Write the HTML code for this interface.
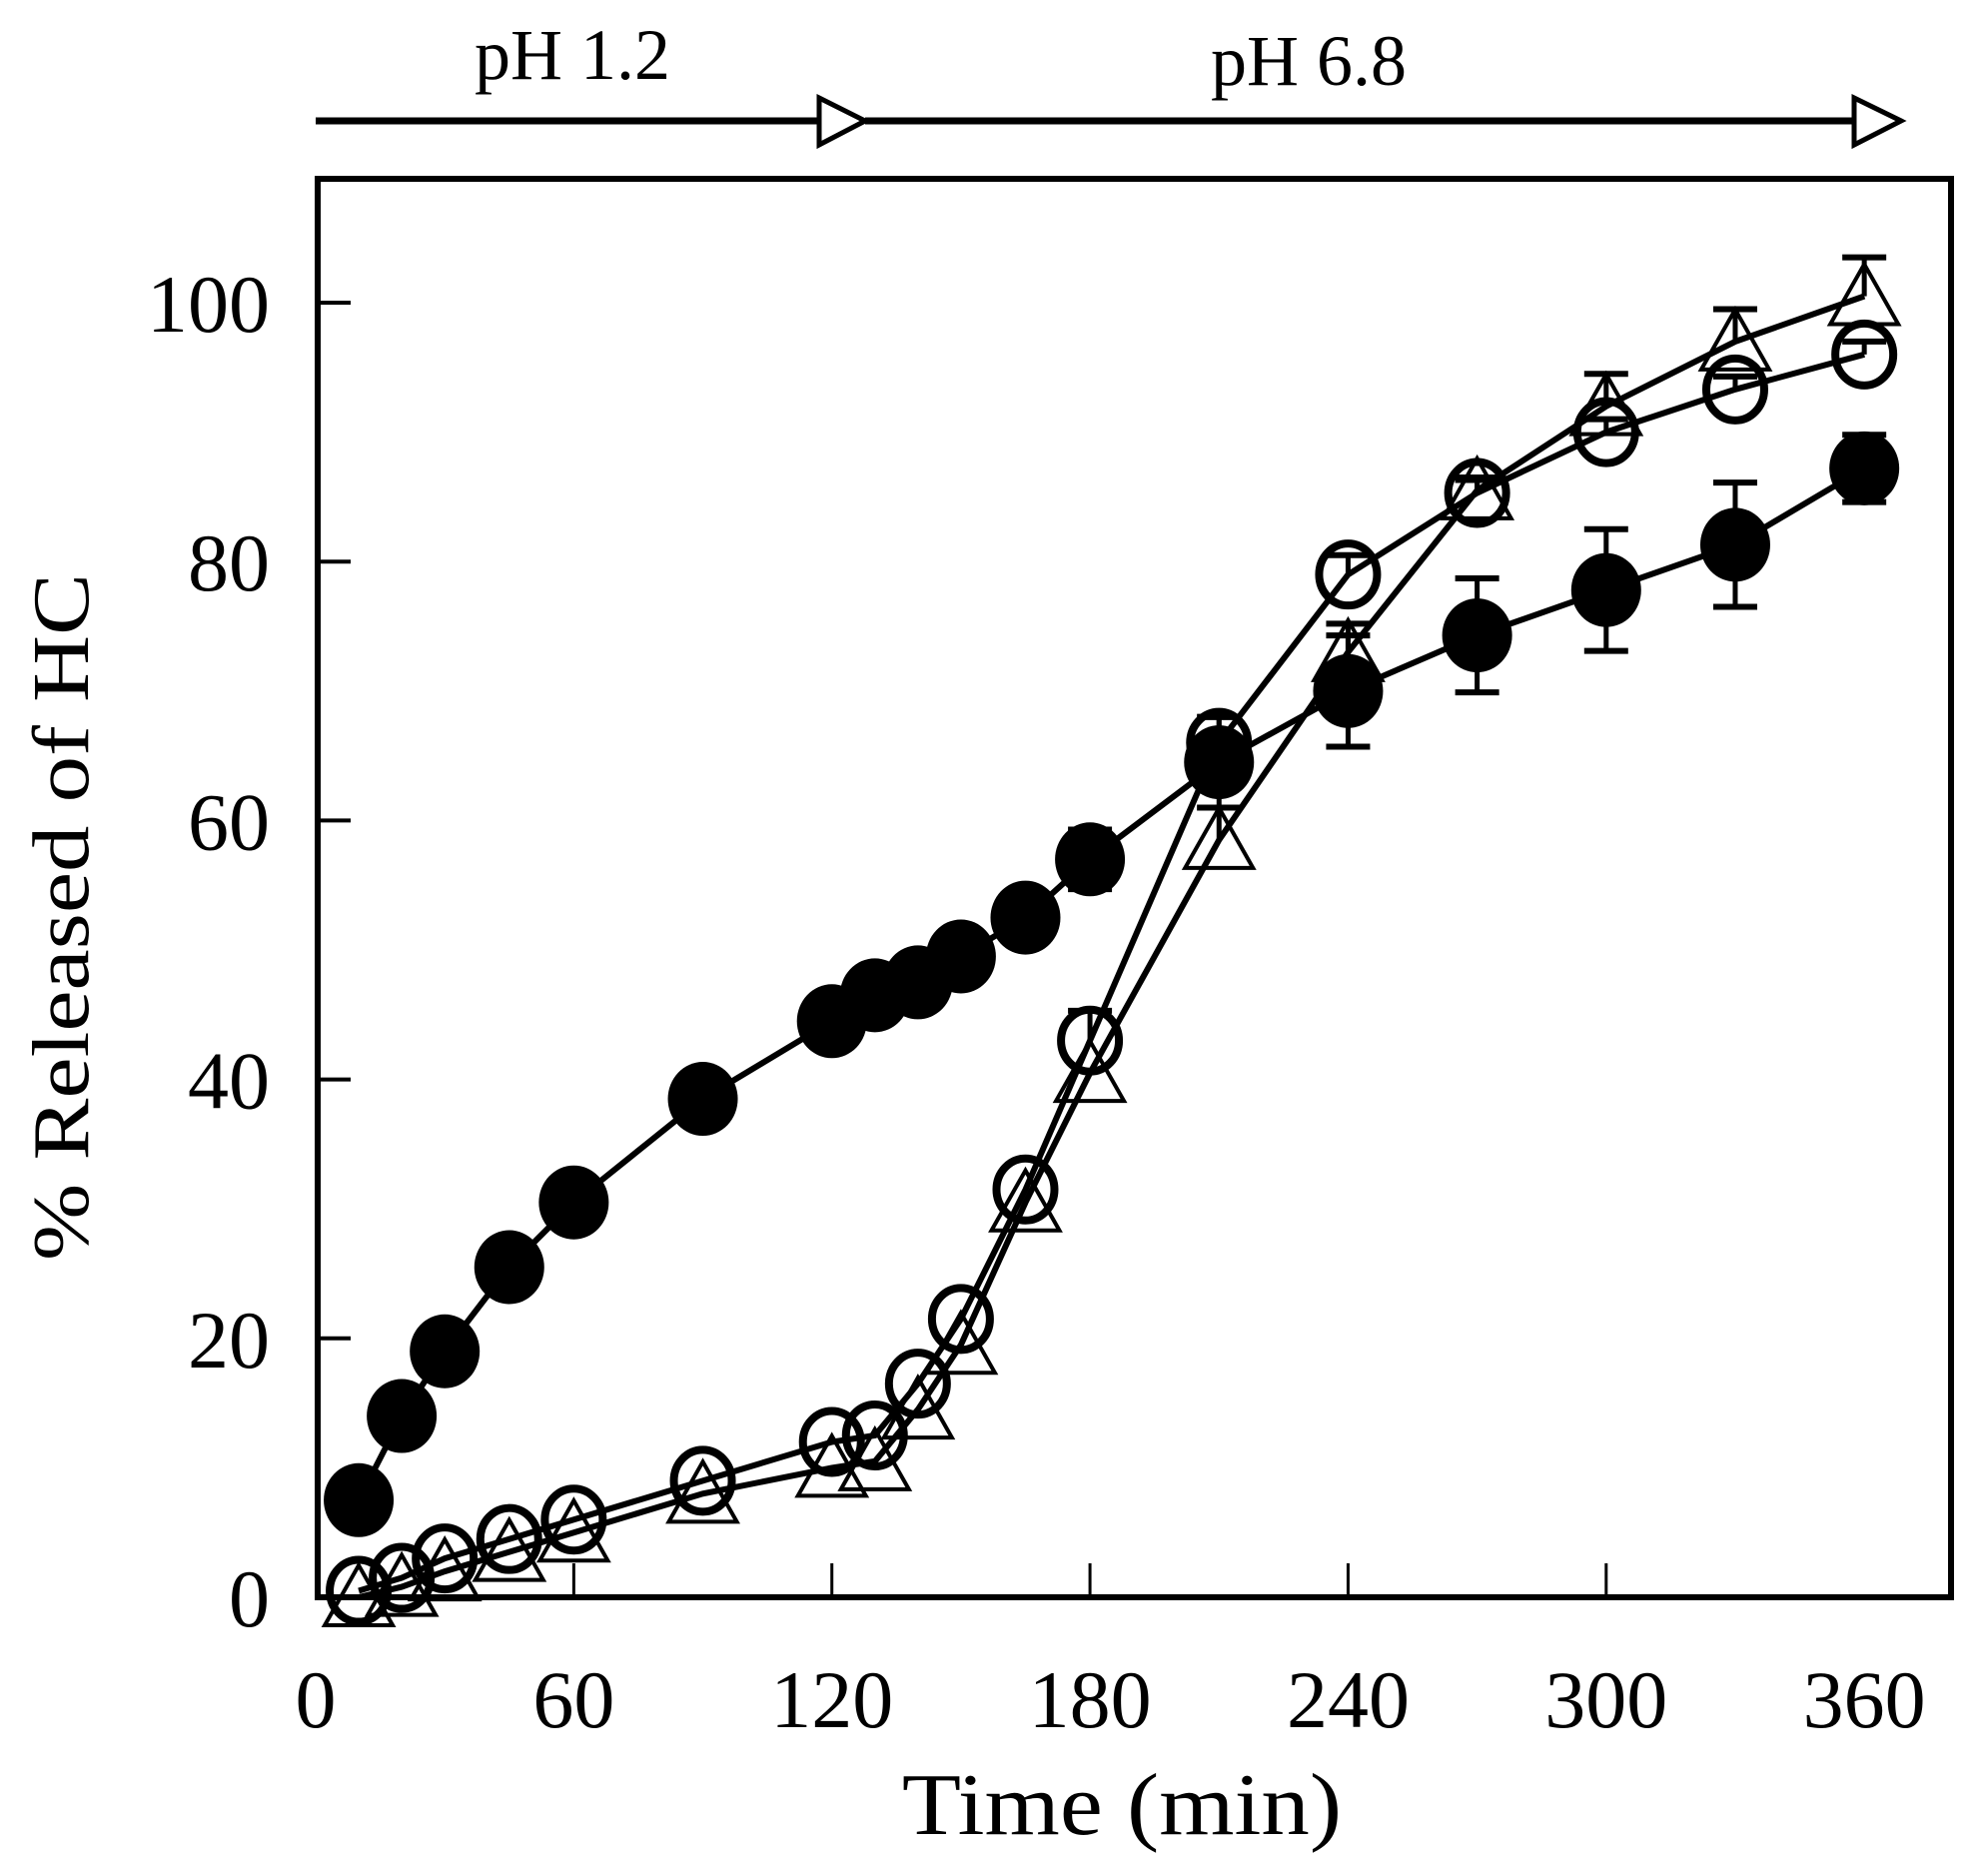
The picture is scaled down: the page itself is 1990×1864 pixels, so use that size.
<!DOCTYPE html>
<html><head><meta charset="utf-8"><style>
html,body{margin:0;padding:0;background:#fff;}
svg{display:block;}
text{font-family:"Liberation Serif",serif;fill:#000;}
</style></head><body>
<svg id="s" width="1990" height="1864" viewBox="0 0 1990 1864" xmlns="http://www.w3.org/2000/svg">
<rect width="1990" height="1864" fill="#fff"/>
<line x1="316" y1="121" x2="820" y2="121" stroke="#000" stroke-width="7"/>
<polygon points="820,98 866,121 820,145" fill="#fff" stroke="#000" stroke-width="5"/>
<line x1="866" y1="121" x2="1856" y2="121" stroke="#000" stroke-width="7"/>
<polygon points="1856,98 1903,121 1856,145" fill="#fff" stroke="#000" stroke-width="5"/>
<text x="573" y="79" font-size="72" text-anchor="middle">pH 1.2</text>
<text x="1310" y="85" font-size="72" text-anchor="middle">pH 6.8</text>
<g id="plot"></g>
<rect x="318" y="179" width="1635" height="1420" fill="none" stroke="#000" stroke-width="6"/>
<g id="ticks"></g>
<text x="1123" y="1836" font-size="88" text-anchor="middle" transform="translate(1123 0) scale(1.1 1) translate(-1123 0)">Time (min)</text>
<text x="0" y="0" font-size="80" text-anchor="middle" transform="translate(88 918) rotate(-90) scale(1.16 1)">% Released of HC</text>
</svg>
<script>
var NS="http://www.w3.org/2000/svg";
function X(t){return 316+t*4.306;}
function Y(v){return 1599-v*12.96;}
function el(p,n,a){var e=document.createElementNS(NS,n);for(var k in a)e.setAttribute(k,a[k]);p.appendChild(e);return e;}
var P=document.getElementById('plot'),T=document.getElementById('ticks');
var t=[10,20,30,45,60,90,120,130,140,150,165,180,210,240,270,300,330,360];
var F=[7.5,14,19,25.5,30.5,38.5,44.5,46.5,47.5,49.5,52.5,57,64.5,70,74.3,77.8,81.3,87.2];
var O=[0.5,1.5,3,4.5,6,9,12,12.5,16.5,21.5,31.5,43,66,79,85.3,90,93.3,96];
var R=[0,0.8,2,3.5,5,8,10,10.5,14.5,19.5,30.5,40.5,58.5,73,85.5,92,97,100.5];
var FE={180:2.3,210:3.5,240:4.3,270:4.4,300:4.7,330:4.8,360:2.6};
var OE={180:2.3,210:2,240:1.5,270:1,300:1,330:1,360:1};
var RE={210:2.5,240:2.2,270:1,300:2.5,330:2.5,360:3};
function line(V){var d='';for(var i=0;i<t.length;i++)d+=(i?'L':'M')+X(t[i]).toFixed(1)+','+Y(V[i]).toFixed(1);el(P,'path',{d:d,fill:'none',stroke:'#000','stroke-width':6});}
function err(V,E,updown){for(var i=0;i<t.length;i++){var e=E[t[i]];if(!e)continue;var x=X(t[i]);var y=Y(V[i]);
 var ys=updown?[y-e*12.96,y+e*12.96]:[y-e*12.96];
 ys.forEach(function(yy){el(P,'line',{x1:x,y1:y,x2:x,y2:yy,stroke:'#000','stroke-width':5});el(P,'line',{x1:x-22,y1:yy,x2:x+22,y2:yy,stroke:'#000','stroke-width':6});});}}
line(F);line(O);line(R);
err(F,FE,true);err(O,OE,false);err(R,RE,false);
for(var i=0;i<t.length;i++){var x=X(t[i]);
 el(P,'ellipse',{cx:x,cy:Y(F[i]),rx:35,ry:37,fill:'#000'});
 el(P,'ellipse',{cx:x,cy:Y(O[i]),rx:29,ry:31,fill:'none',stroke:'#000','stroke-width':8});
 var y=Y(R[i]);el(P,'polygon',{points:(x)+','+(y-32)+' '+(x-34)+','+(y+28)+' '+(x+34)+','+(y+28),fill:'none',stroke:'#000','stroke-width':4});
}
[0,60,120,180,240,300,360].forEach(function(v){var x=X(v);if(v>0&&v<360)el(T,'line',{x1:x,y1:1599,x2:x,y2:1565,stroke:'#000','stroke-width':3});
 var tx=el(T,'text',{x:x,y:1729,'font-size':82,'text-anchor':'middle'});tx.textContent=v;});
[0,20,40,60,80,100].forEach(function(v){var y=Y(v);if(v>0)el(T,'line',{x1:318,y1:y,x2:351,y2:y,stroke:'#000','stroke-width':4});
 var tx=el(T,'text',{x:270,y:y+29,'font-size':82,'text-anchor':'end'});tx.textContent=v;});
</script>
</body></html>
